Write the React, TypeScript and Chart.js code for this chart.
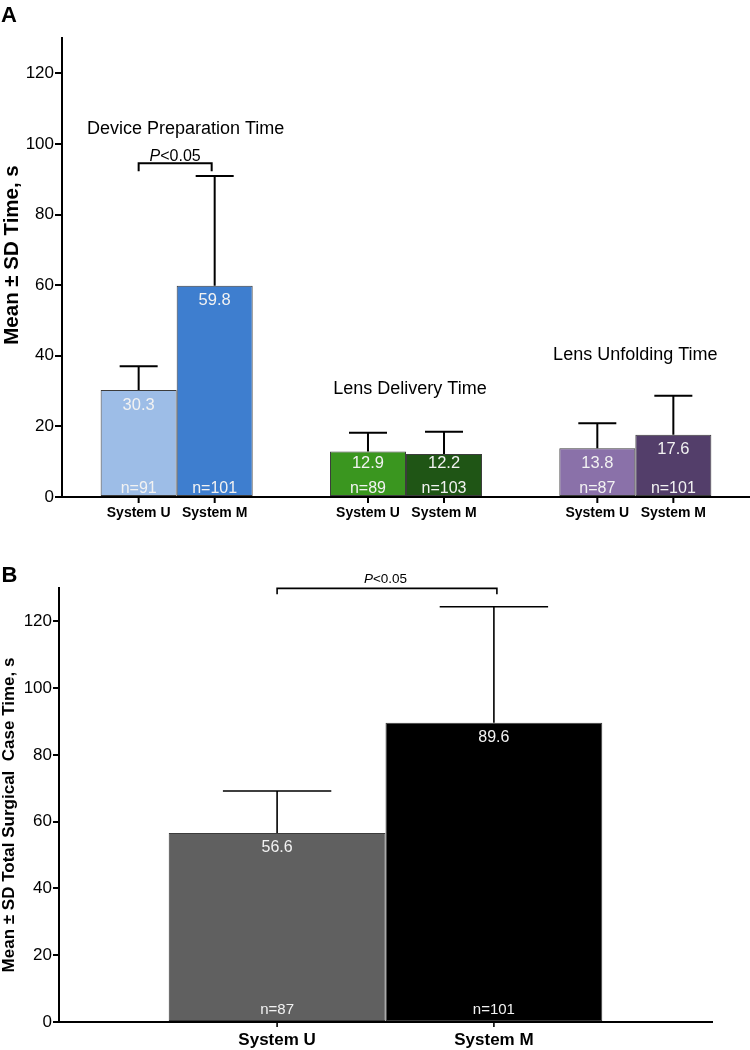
import React, { useEffect, useRef } from "react";
import { Chart, registerables } from "chart.js";
Chart.register(...registerables);

const FONT = '"Liberation Sans", Arial, Helvetica, sans-serif';

// ---------- Panel A data ----------
const groupsA = ["Device Preparation Time", "Lens Delivery Time", "Lens Unfolding Time"];
const systems = ["System U", "System M"];
const meanU_A = [30.3, 12.9, 13.8];
const meanM_A = [59.8, 12.2, 17.6];
const sdU_A = [6.7, 5.3, 7.1];
const sdM_A = [31.1, 6.3, 11.1];
const nU_A = [91, 89, 87];
const nM_A = [101, 103, 101];
const groupTitleValueA = [104.1, 30.6, 40.1];
const yTicks = [0, 20, 40, 60, 80, 100, 120];
const yMax = 130;
const pBracketA = { from: 0, to: 1, group: 0, value: 94.5, label: "P<0.05" };

// ---------- Panel B data ----------
const meanB = [56.6, 89.6];
const sdB = [12.6, 34.8];
const nB = [87, 101];
const pBracketB = { value: 129.9, label: "P<0.05" };

const colorsU_A = ["#9dbde7", "#3a961f", "#8a71a9"];
const colorsM_A = ["#3e7ecf", "#1f5515", "#533e6a"];
const colorsB = ["#606060", "#000000"];

function drawP(ctx: CanvasRenderingContext2D, text: string, cx: number, cy: number, size: number) {
  const p = text.slice(0, 1);
  const rest = text.slice(1);
  ctx.font = `italic ${size}px ${FONT}`;
  const wp = ctx.measureText(p).width;
  ctx.font = `${size}px ${FONT}`;
  const wr = ctx.measureText(rest).width;
  const x0 = cx - (wp + wr) / 2;
  ctx.textAlign = "left";
  ctx.textBaseline = "middle";
  ctx.fillStyle = "#000";
  ctx.font = `italic ${size}px ${FONT}`;
  ctx.fillText(p, x0, cy);
  ctx.font = `${size}px ${FONT}`;
  ctx.fillText(rest, x0 + wp, cy);
}

function drawRotatedTitle(ctx: CanvasRenderingContext2D, text: string, cx: number, cy: number, size: number) {
  ctx.save();
  ctx.translate(cx, cy);
  ctx.rotate(-Math.PI / 2);
  ctx.font = `bold ${size}px ${FONT}`;
  ctx.fillStyle = "#000";
  ctx.textAlign = "center";
  ctx.textBaseline = "middle";
  ctx.fillText(text, 0, 0);
  ctx.restore();
}

const panelAPlugin = {
  id: "panelA",
  afterDatasetsDraw(chart: any) {
    const ctx: CanvasRenderingContext2D = chart.ctx;
    const xs = chart.scales.x;
    const ys = chart.scales.y;
    const area = chart.chartArea;
    const sds = [sdU_A, sdM_A];
    const ns = [nU_A, nM_A];
    ctx.save();
    for (let di = 0; di < 2; di++) {
      const meta = chart.getDatasetMeta(di);
      meta.data.forEach((el: any, i: number) => {
        const mean = chart.data.datasets[di].data[i] as number;
        const top = ys.getPixelForValue(mean + sds[di][i]);
        ctx.strokeStyle = "#000";
        ctx.lineWidth = 2;
        ctx.beginPath();
        ctx.moveTo(el.x, el.y);
        ctx.lineTo(el.x, top);
        ctx.moveTo(el.x - el.width / 4, top);
        ctx.lineTo(el.x + el.width / 4, top);
        ctx.stroke();
        // value label
        ctx.fillStyle = "#f2f2f2";
        ctx.font = `16.5px ${FONT}`;
        ctx.textAlign = "center";
        ctx.textBaseline = "middle";
        const vy = Math.min(el.y + 15, area.bottom - 34);
        ctx.fillText(mean.toFixed(1), el.x, vy);
        ctx.font = `16px ${FONT}`;
        ctx.fillText("n=" + ns[di][i], el.x, area.bottom - 8);
        // x tick and label
        ctx.strokeStyle = "#000";
        ctx.lineWidth = 2;
        ctx.beginPath();
        ctx.moveTo(el.x, area.bottom);
        ctx.lineTo(el.x, area.bottom + 6);
        ctx.stroke();
        ctx.fillStyle = "#000";
        ctx.font = `bold 14px ${FONT}`;
        ctx.fillText(systems[di], el.x, area.bottom + 16);
      });
    }
    // group titles
    const titleDx = [9, 4, 0];
    ctx.fillStyle = "#000";
    ctx.font = `18px ${FONT}`;
    ctx.textAlign = "center";
    ctx.textBaseline = "middle";
    groupsA.forEach((g, i) => {
      ctx.fillText(g, xs.getPixelForValue(i) + titleDx[i], ys.getPixelForValue(groupTitleValueA[i]));
    });
    // bracket
    const e1 = chart.getDatasetMeta(pBracketA.from).data[pBracketA.group];
    const e2 = chart.getDatasetMeta(pBracketA.to).data[pBracketA.group];
    const by = ys.getPixelForValue(pBracketA.value);
    const x1 = e1.x;
    const x2 = e2.x - 3;
    ctx.strokeStyle = "#000";
    ctx.lineWidth = 2;
    ctx.beginPath();
    ctx.moveTo(x1, by + 8);
    ctx.lineTo(x1, by);
    ctx.lineTo(x2, by);
    ctx.lineTo(x2, by + 8);
    ctx.stroke();
    drawP(ctx, pBracketA.label, (x1 + x2) / 2, by - 7, 16);
    // axis title & panel letter
    drawRotatedTitle(ctx, "Mean \u00b1 SD Time, s", 12, 255, 20.5);
    ctx.font = `bold 22px ${FONT}`;
    ctx.textAlign = "left";
    ctx.textBaseline = "alphabetic";
    ctx.fillStyle = "#000";
    ctx.fillText("A", 1, 22);
    ctx.restore();
  },
};

const panelBPlugin = {
  id: "panelB",
  afterDatasetsDraw(chart: any) {
    const ctx: CanvasRenderingContext2D = chart.ctx;
    const ys = chart.scales.y;
    const area = chart.chartArea;
    ctx.save();
    const els: any[] = [];
    for (let di = 0; di < 2; di++) {
      const el: any = chart.getDatasetMeta(di).data[0];
      els.push(el);
      const mean = meanB[di];
      const top = ys.getPixelForValue(mean + sdB[di]);
      ctx.strokeStyle = "#000";
      ctx.lineWidth = 1.6;
      ctx.beginPath();
      ctx.moveTo(el.x, el.y);
      ctx.lineTo(el.x, top);
      ctx.moveTo(el.x - el.width / 4, top);
      ctx.lineTo(el.x + el.width / 4, top);
      ctx.stroke();
      ctx.fillStyle = "#f2f2f2";
      ctx.font = `16px ${FONT}`;
      ctx.textAlign = "center";
      ctx.textBaseline = "middle";
      ctx.fillText(mean.toFixed(1), el.x, el.y + 15);
      ctx.font = `15px ${FONT}`;
      ctx.fillText("n=" + nB[di], el.x, area.bottom - 12);
      ctx.strokeStyle = "#000";
      ctx.lineWidth = 1.6;
      ctx.beginPath();
      ctx.moveTo(el.x, area.bottom);
      ctx.lineTo(el.x, area.bottom + 5);
      ctx.stroke();
      ctx.fillStyle = "#000";
      ctx.font = `bold 17px ${FONT}`;
      ctx.fillText(systems[di], el.x, area.bottom + 18);
    }
    const by = ys.getPixelForValue(pBracketB.value);
    ctx.strokeStyle = "#000";
    ctx.lineWidth = 1.6;
    ctx.beginPath();
    ctx.moveTo(els[0].x, by + 6);
    ctx.lineTo(els[0].x, by);
    ctx.lineTo(els[1].x + 3, by);
    ctx.lineTo(els[1].x + 3, by + 6);
    ctx.stroke();
    drawP(ctx, pBracketB.label, (els[0].x + els[1].x) / 2, by - 9, 13.5);
    drawRotatedTitle(ctx, "Mean \u00b1 SD Total Surgical  Case Time, s", 9, 290, 17);
    ctx.font = `bold 22px ${FONT}`;
    ctx.textAlign = "left";
    ctx.textBaseline = "alphabetic";
    ctx.fillStyle = "#000";
    ctx.fillText("B", 1.5, 56.5);
    ctx.restore();
  },
};

function yScale(width: number, tickLen: number) {
  return {
    min: 0,
    max: yMax,
    afterBuildTicks: (s: any) => {
      s.ticks = yTicks.map((v) => ({ value: v }));
    },
    afterFit: (s: any) => {
      s.width = width;
    },
    ticks: { color: "#000", font: { family: FONT, size: 17 }, padding: 1 },
    grid: { display: true, drawOnChartArea: false, drawTicks: true, tickLength: tickLen, color: "#000", lineWidth: 2 },
    border: { display: true, color: "#000", width: 2 },
  };
}

function xScale() {
  return {
    grid: { display: false },
    ticks: { display: false },
    border: { display: true, color: "#000", width: 2 },
    afterFit: (s: any) => {
      s.height = 28;
    },
  };
}

export default function App() {
  const refA = useRef<HTMLCanvasElement | null>(null);
  const refB = useRef<HTMLCanvasElement | null>(null);
  useEffect(() => {
    const a = new Chart(refA.current as HTMLCanvasElement, {
      type: "bar",
      data: {
        labels: groupsA,
        datasets: [
          { label: systems[0], data: meanU_A, backgroundColor: colorsU_A, borderColor: "#3c3c3c", borderWidth: 1, borderSkipped: false },
          { label: systems[1], data: meanM_A, backgroundColor: colorsM_A, borderColor: "#3c3c3c", borderWidth: 1, borderSkipped: false },
        ],
      },
      options: {
        responsive: false,
        animation: false,
        categoryPercentage: 0.663,
        barPercentage: 1,
        layout: { padding: { top: 38, right: 0, left: 0, bottom: 0 } },
        plugins: { legend: { display: false }, tooltip: { enabled: false } },
        scales: { x: xScale(), y: yScale(62, 7) },
      } as any,
      plugins: [panelAPlugin],
    });
    const b = new Chart(refB.current as HTMLCanvasElement, {
      type: "bar",
      data: {
        labels: ["Total Surgical Case Time"],
        datasets: [
          { label: systems[0], data: [meanB[0]], backgroundColor: colorsB[0], borderColor: "#3c3c3c", borderWidth: 1, borderSkipped: false },
          { label: systems[1], data: [meanB[1]], backgroundColor: colorsB[1], borderColor: "#3c3c3c", borderWidth: 1, borderSkipped: false },
        ],
      },
      options: {
        responsive: false,
        animation: false,
        categoryPercentage: 0.664,
        barPercentage: 1,
        layout: { padding: { top: 63, right: 38, left: 0, bottom: 0 } },
        plugins: { legend: { display: false }, tooltip: { enabled: false } },
        scales: { x: xScale(), y: yScale(59, 6) },
      } as any,
      plugins: [panelBPlugin],
    });
    return () => {
      a.destroy();
      b.destroy();
    };
  }, []);
  return (
    <div style={{ position: "absolute", left: 0, top: 0, width: 750, height: 1050, background: "#fff" }}>
      <canvas ref={refA} width={750} height={525} style={{ display: "block" }} />
      <canvas ref={refB} width={750} height={525} style={{ display: "block" }} />
    </div>
  );
}
